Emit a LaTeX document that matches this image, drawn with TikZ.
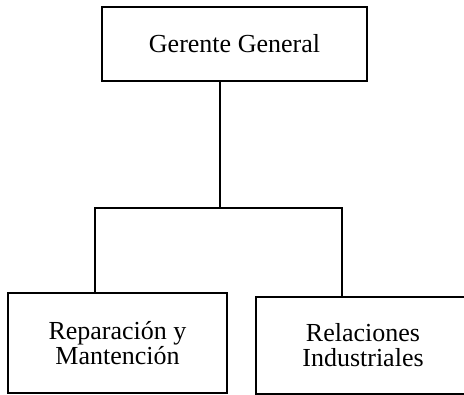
\documentclass[tikz,border=0pt]{standalone}
\usepackage{fontspec}
\setmainfont{Liberation Serif}
\usetikzlibrary{calc,positioning}

\begin{document}
\begin{tikzpicture}[x=1pt,y=1pt,
    unidad/.style={draw,line width=2.4pt,align=center,inner sep=0pt,
      font=\fontsize{26}{25}\selectfont},
    enlace/.style={line width=2.6pt,line join=miter}]
  \useasboundingbox (0,0) rectangle (464,395);

  \node[unidad,minimum width=265,minimum height=74]
    (gerente) at (234.5,351) {Gerente General};

  \node[unidad,minimum width=219,minimum height=100]
    (reparacion) at (117.5,52) {Reparación y\\Mantención};

  \node[unidad,minimum width=214,minimum height=97]
    (relaciones) at (363,49.5) {Relaciones\\Industriales};

  % barra de union
  \coordinate (barraM) at (220,187);
  \coordinate (barraI) at (95,187);
  \coordinate (barraD) at (342,187);

  \draw[enlace] (gerente.south -| barraM) -- (barraM);
  \draw[enlace] (reparacion.north -| barraI) -- (barraI) -- (barraD)
    -- (relaciones.north -| barraD);
\end{tikzpicture}
\end{document}
